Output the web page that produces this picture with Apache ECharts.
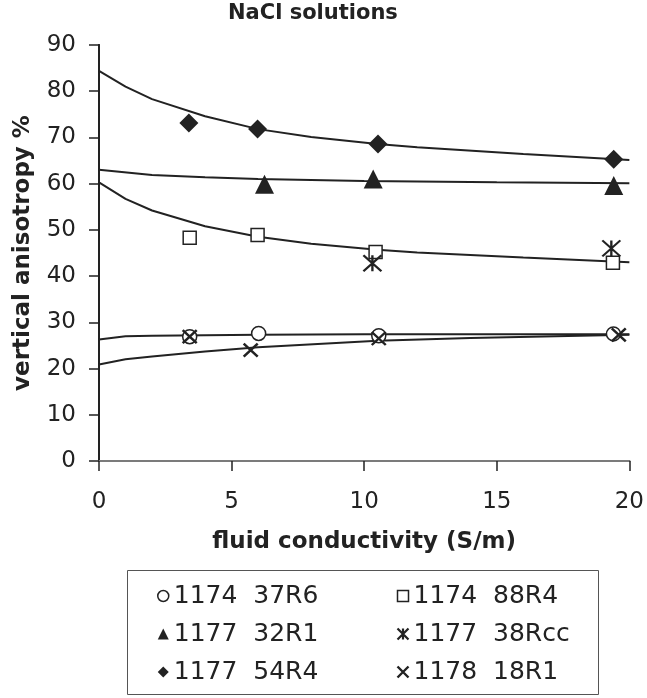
<!DOCTYPE html>
<html>
<head>
<meta charset="utf-8">
<script src="https://cdn.jsdelivr.net/npm/echarts@6/dist/echarts.min.js"></script>
<style>
html,body{margin:0;padding:0;background:#fff;}
#chart{width:647px;height:698px;}
</style>
</head>
<body>
<div id="chart"></div>
<script>
// ---- data ----
var titleText = 'NaCl solutions';
var xName = 'fluid conductivity (S/m)';
var yName = 'vertical anisotropy %';

var names = ['1174  37R6', '1174  88R4', '1177  32R1', '1177  38Rcc', '1177  54R4', '1178  18R1'];

var s37R6 = [[3.42, 26.9], [6.02, 27.6], [10.55, 27.1], [19.4, 27.5]];
var s88R4 = [[3.42, 48.3], [5.98, 48.9], [10.43, 45.2], [19.38, 42.9]];
var s32R1 = [[6.24, 59.9], [10.34, 61.0], [19.41, 59.6]];
var s38Rcc = [[10.31, 42.8], [19.32, 46.0]];
var s54R4 = [[3.39, 73.1], [5.98, 71.8], [10.52, 68.6], [19.41, 65.3]];
var s18R1 = [[3.42, 26.9], [5.72, 24.0], [10.55, 26.5], [19.6, 27.3]];

// fitted trend curves
var fit54R4 = [[0, 84.4], [1, 81.0], [2, 78.3], [4, 74.6], [6, 71.8], [8, 70.1], [10.5, 68.6], [12, 67.9], [16, 66.4], [20, 65.1]];
var fit32R1 = [[0, 63.0], [2, 61.9], [4, 61.4], [6, 61.0], [10, 60.6], [15, 60.3], [20, 60.1]];
var fit88R4 = [[0, 60.3], [1, 56.7], [2, 54.2], [4, 50.8], [6, 48.5], [8, 47.0], [10.5, 45.7], [12, 45.1], [16, 44.0], [20, 43.0]];
var fit37R6 = [[0, 26.3], [1, 27.0], [2, 27.1], [6, 27.3], [10, 27.4], [20, 27.4]];
var fit18R1 = [[0, 20.9], [1, 22.0], [2, 22.6], [4, 23.7], [6, 24.6], [10.5, 26.0], [14, 26.6], [20, 27.3]];

var xTicks = {min: 0, max: 20, interval: 5};
var yTicks = {min: 0, max: 90, interval: 10};

// ---- styling ----
var ink = '#222';
var FONT = 'DejaVu Sans';
var starPath = 'path://M0,0L10,10M10,0L0,10M5,0L5,10';
var xPath = 'path://M0,0L10,10M10,0L0,10';

var markerDefs = [
  {name: names[0], data: s37R6, symbol: 'circle', size: 14, style: {color: '#fff', borderColor: ink, borderWidth: 1.5}},
  {name: names[1], data: s88R4, symbol: 'rect', size: 13, style: {color: '#fff', borderColor: ink, borderWidth: 1.5}},
  {name: names[2], data: s32R1, symbol: 'triangle', size: 19, style: {color: ink}},
  {name: names[3], data: s38Rcc, symbol: starPath, size: [18, 16], style: {color: 'none', borderColor: ink, borderWidth: 2.2}},
  {name: names[4], data: s54R4, symbol: 'diamond', size: 19, style: {color: ink}},
  {name: names[5], data: s18R1, symbol: xPath, size: [14, 13], style: {color: 'none', borderColor: ink, borderWidth: 2.4}}
];

var fits = [fit54R4, fit32R1, fit88R4, fit37R6, fit18R1];

var series = [];
fits.forEach(function (f, i) {
  series.push({
    type: 'line', name: 'fit' + i, data: f, showSymbol: false, symbol: 'none',
    lineStyle: {color: ink, width: 2}, z: 1, silent: true, animation: false
  });
});
markerDefs.forEach(function (m) {
  series.push({
    type: 'scatter', name: m.name, data: m.data, symbol: m.symbol, symbolSize: m.size,
    itemStyle: Object.assign({opacity: 1}, m.style), z: 3, animation: false
  });
});

function legendItem(m) {
  return {name: m.name, icon: m.symbol, itemStyle: m.style};
}

var legendCommon = {
  orient: 'vertical', padding: 0, itemWidth: 11, itemHeight: 11, itemGap: 12,
  textStyle: {fontFamily: FONT, fontSize: 25, color: ink, lineHeight: 26},
  selectedMode: false
};

var chart = echarts.init(document.getElementById('chart'), null, {renderer: 'canvas'});
chart.setOption({
  animation: false,
  backgroundColor: '#fff',
  title: {
    text: titleText, left: 228, top: 3, padding: 0,
    textStyle: {fontFamily: FONT, fontSize: 21, fontWeight: 'bold', color: ink}
  },
  grid: {left: 99, right: 17, top: 45, bottom: 237, show: false},
  xAxis: [{
    type: 'value', min: xTicks.min, max: xTicks.max, interval: xTicks.interval,
    name: xName, nameLocation: 'middle', nameGap: 70,
    nameTextStyle: {fontFamily: FONT, fontSize: 23, fontWeight: 'bold', color: ink},
    axisLine: {lineStyle: {color: ink, width: 2}},
    axisTick: {show: true, length: 10, lineStyle: {color: ink, width: 1.5}},
    axisLabel: {fontFamily: FONT, fontSize: 23, color: ink, margin: 30},
    splitLine: {show: false}
  }, {
    type: 'value', position: 'top', min: xTicks.min, max: xTicks.max,
    axisLine: {show: true, lineStyle: {color: '#999', width: 1.5}},
    axisTick: {show: false}, axisLabel: {show: false}, splitLine: {show: false}
  }],
  yAxis: [{
    type: 'value', min: yTicks.min, max: yTicks.max, interval: yTicks.interval,
    name: yName, nameLocation: 'middle', nameGap: 64, nameRotate: 90,
    nameTextStyle: {fontFamily: FONT, fontSize: 23, fontWeight: 'bold', color: ink},
    axisLine: {lineStyle: {color: ink, width: 2}},
    axisTick: {show: true, length: 10, lineStyle: {color: ink, width: 1.5}},
    axisLabel: {fontFamily: FONT, fontSize: 23, color: ink, margin: 23},
    splitLine: {show: false}
  }, {
    type: 'value', position: 'right', min: yTicks.min, max: yTicks.max,
    axisLine: {show: true, lineStyle: {color: ink, width: 2}},
    axisTick: {show: false}, axisLabel: {show: false}, splitLine: {show: false}
  }],
  legend: [
    Object.assign({left: 157, top: 583, data: [markerDefs[0], markerDefs[2], markerDefs[4]].map(legendItem)}, legendCommon),
    Object.assign({left: 395, top: 583, data: [markerDefs[1], markerDefs[3], markerDefs[5]].map(legendItem)}, legendCommon)
  ],
  graphic: [{
    type: 'rect', left: 127, top: 570, z: 0,
    shape: {width: 471, height: 124},
    style: {fill: '#fff', stroke: '#555', lineWidth: 1}
  }],
  series: series
});
</script>
</body>
</html>
